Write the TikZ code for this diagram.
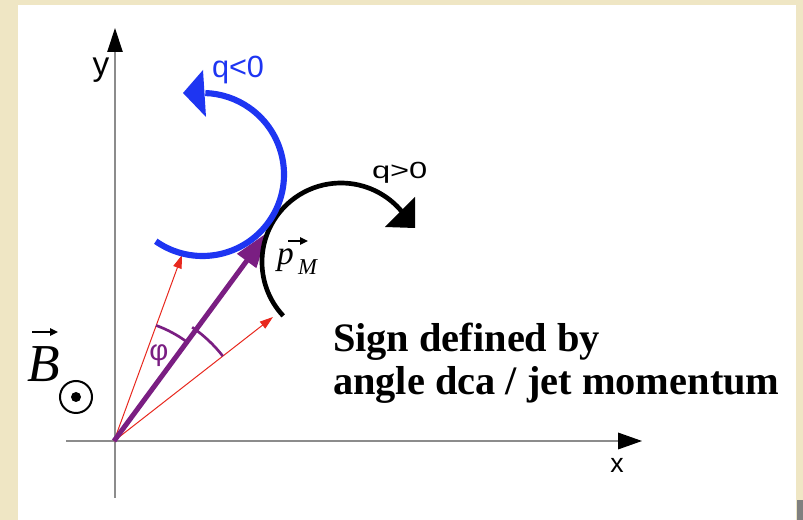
\documentclass[tikz,border=0pt]{standalone}
\usepackage{amsmath}
\usepackage{fontspec}
\setmainfont{Liberation Serif}
\setsansfont{Liberation Sans}
\usetikzlibrary{arrows.meta}
\definecolor{bgc}{HTML}{EFE6C4}
\definecolor{axisgray}{HTML}{8C8C8C}
\definecolor{vecred}{HTML}{E8281E}
\definecolor{vpurple}{HTML}{7A1E82}
\definecolor{qblue}{HTML}{1E35F2}
\tikzset{
  axisline/.style={draw=axisgray, line width=0.9pt},
  redvec/.style={draw=vecred, line width=0.75pt, -{Triangle[length=10pt,width=6.5pt]}},
  purplevec/.style={draw=vpurple, line width=3.75pt, -{Triangle[length=27pt,width=17pt]}},
  anglearc/.style={draw=vpurple, line width=2pt},
  bluetrack/.style={draw=qblue, line width=4.6pt},
  blacktrack/.style={draw=black, line width=3.5pt},
  overarrow/.style={draw=black, line width=1.1pt, -{Triangle[length=6pt,width=5.5pt]}},
  lbl/.style={inner sep=0pt, outer sep=0pt},
  signtext/.style={lbl, anchor=base west, font=\fontsize{30.3}{32}\selectfont\bfseries},
}
\begin{document}
\begin{tikzpicture}[x=0.75pt,y=0.75pt]
% background
\fill[bgc] (0,0) rectangle (803,520);
\fill[white] (18,0) rectangle (796,515);
\fill[gray] (797,0) rectangle (803,20);
\useasboundingbox (0,0) rectangle (803,520);

% axes
\coordinate (O) at (114,79);
\coordinate (ybot) at (115,22);
\coordinate (ytop) at (115,492);
\coordinate (xleft) at (66,79);
\coordinate (xright) at (642,79);
\draw[axisline, -{Triangle[length=18pt,width=11.5pt,color=black]}] (ybot) -- (ytop);
\draw[axisline, -{Triangle[length=18pt,width=12.5pt,color=black]}] (xleft) -- (xright);
\node[lbl, anchor=base, font=\sffamily\fontsize{25}{28}\selectfont] (ylab) at (101,444) {y};
\node[lbl, anchor=base, font=\sffamily\fontsize{20}{24}\selectfont] (xlab) at (617,47) {x};

% red vectors
\coordinate (rtipL) at (182,265);
\coordinate (rtipR) at (273,203);
\draw[redvec] (O) -- (rtipL);
\draw[redvec] (O) -- (rtipR);

% angle arcs
\draw[anglearc] (O) ++(53.7:123) arc[start angle=53.7, end angle=70, radius=123];
\draw[anglearc] (O) ++(38:138) arc[start angle=38, end angle=55.5, radius=138];
\node[lbl, text=vpurple, font=\sffamily\fontsize{22}{26}\selectfont] (phi) at (159,164) {φ};

% momentum vector
\coordinate (pM) at (268,288);
\draw[purplevec] (O) -- (pM);

% q>0 track
\coordinate (kc) at (341,258);
\draw[blacktrack] (kc) ++(223:79) arc[start angle=223, end angle=36, radius=79];
\fill[black] (415,323) -- (415,292) -- (385,293) -- cycle;

% q<0 track
\coordinate (bc) at (202.5,345.5);
\draw[bluetrack] (bc) ++(235:81.5) arc[start angle=235, end angle=448, radius=81.5];
\fill[qblue] (183,427) -- (203,450) -- (206,403) -- cycle;

% labels
\node[lbl, anchor=base west, text=qblue, font=\sffamily\fontsize{23}{26}\selectfont] (qneg) at (212,442) {q<0};
\node[lbl, anchor=base west, font=\sffamily\fontsize{17.5}{20}\selectfont] (qpos) at (372,341) {\scalebox{1.4}[1]{q>0}};

% p_M
\node[lbl, anchor=base west, font=\fontsize{25}{28}\selectfont\itshape] (plab) at (277,255) {p};
\node[lbl, anchor=base west, font=\fontsize{17}{20}\selectfont\itshape] (mlab) at (298,245) {M};
\coordinate (parL) at (288,279);
\coordinate (parR) at (308,279);
\draw[overarrow] (parL) -- (parR);

% B field
\node[lbl, anchor=base west, font=\fontsize{40}{44}\selectfont\itshape] (Blab) at (27,138) {B};
\coordinate (barL) at (32,188);
\coordinate (barR) at (58,188);
\draw[overarrow] (barL) -- (barR);
\node[circle, draw, line width=1.5pt, minimum size=24pt, inner sep=0pt] (odot) at (76,123) {};
\fill (odot.center) circle[radius=5];

% caption
\node[signtext] (sign1) at (333,168) {Sign defined by};
\node[signtext] (sign2) at (333,125) {angle dca / jet momentum};
\end{tikzpicture}
\end{document}
